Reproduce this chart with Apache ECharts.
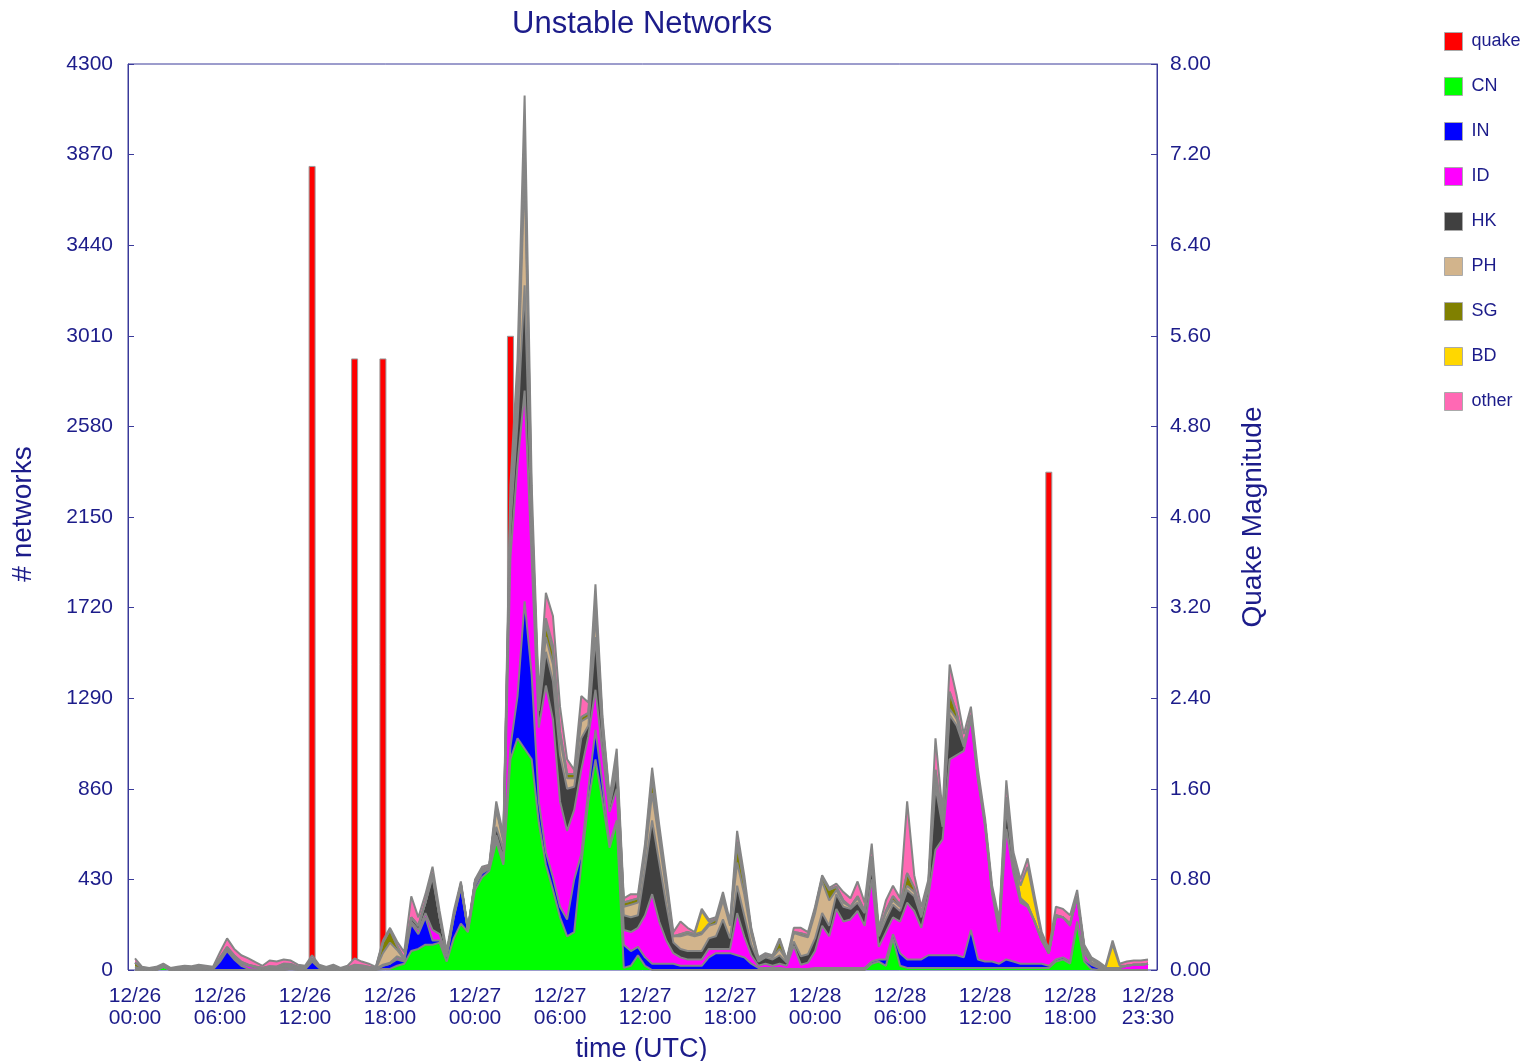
<!DOCTYPE html>
<html>
<head>
<meta charset="utf-8">
<script src="https://cdn.jsdelivr.net/npm/echarts@6/dist/echarts.min.js"></script>
<style>
html,body{margin:0;padding:0;background:#fff;}
#chart{width:1535px;height:1061px;}
</style>
</head>
<body>
<div id="chart"></div>
<script>
// ---- Data (30-minute slots, slot 0 = 12/26 00:00, slot 143 = 12/28 23:30, UTC) ----
const days = ['12/26', '12/27', '12/28'];
const slotsPerDay = 48;
const categories = [];
days.forEach(d => { for (let s = 0; s < slotsPerDay; s++) {
  const hh = String(Math.floor(s / 2)).padStart(2, '0'), mm = s % 2 ? '30' : '00';
  categories.push(d + ' ' + hh + ':' + mm);
}});
const xTickIndex = [0,12,24,36,48,60,72,84,96,108,120,132,143];

const quakeIndex = [25, 31, 35, 53, 129];
const quakeMag   = [7.1, 5.4, 5.4, 5.6, 4.4];

const CN = [0,0,0,0,15,0,0,0,0,0,0,0,0,0,0,0,0,0,0,0,0,0,5,0,0,0,0,0,0,0,0,0,0,0,0,5,5,20,30,90,100,120,120,130,40,150,220,180,380,440,470,610,500,1000,1100,1050,1000,700,500,380,250,160,180,500,800,1000,800,580,700,10,20,70,20,0,0,0,0,0,0,0,0,0,0,0,0,0,0,0,0,0,0,0,0,0,0,0,0,0,0,0,0,0,0,0,30,40,20,150,20,10,10,10,10,10,10,10,10,10,10,10,10,10,10,10,10,10,10,10,10,10,40,50,30,220,40,5,0,0,0,0,0,0,0,0];
const IN = [0,0,0,0,0,0,0,3,5,5,3,2,40,90,50,20,5,2,0,0,0,0,0,0,2,40,10,3,3,0,0,0,0,0,0,15,25,30,10,130,70,130,20,10,20,100,170,10,20,20,10,10,10,60,200,700,400,100,60,60,50,80,250,50,60,140,80,20,10,110,70,40,40,30,30,30,30,20,20,20,20,60,80,80,80,70,60,30,10,10,10,10,5,5,5,5,10,10,10,10,10,10,10,10,10,10,30,20,60,40,40,40,60,60,60,60,60,50,180,40,30,30,20,40,30,20,20,20,20,10,10,10,10,10,10,20,10,5,0,0,0,0,0,0];
const ID = [0,0,0,0,0,0,5,5,3,5,5,3,10,10,10,10,15,10,5,10,10,10,8,5,3,5,3,2,5,2,5,10,8,5,3,0,0,10,10,10,20,20,50,30,10,0,10,0,10,10,5,20,20,900,1100,1000,550,350,790,750,500,420,330,400,250,190,150,150,150,70,90,90,200,330,200,110,50,40,30,30,30,40,20,20,20,200,100,40,10,20,10,20,15,110,20,30,80,200,150,280,220,230,270,200,390,60,130,80,150,270,230,150,280,500,550,930,950,980,1000,850,640,320,150,620,420,290,270,200,110,60,200,190,170,120,30,10,10,5,10,10,20,25,25,30];
const HK = [10,5,3,5,5,3,3,3,3,3,2,2,5,5,5,5,3,3,3,3,3,5,5,5,5,5,3,3,3,3,3,5,5,5,3,5,5,5,0,20,20,50,250,80,10,10,10,0,10,0,0,40,40,150,200,500,150,80,160,180,220,200,110,150,50,250,80,30,80,70,70,60,220,350,280,170,50,40,40,40,40,50,60,140,50,130,100,50,20,30,30,40,15,20,40,40,60,60,50,70,70,50,40,60,60,50,60,60,50,60,70,50,40,300,60,210,140,20,10,10,10,10,20,100,40,10,5,0,0,0,5,0,10,0,10,0,0,0,0,0,0,0,0,0];
const PH = [5,0,0,0,0,0,0,0,0,0,0,0,0,0,0,0,0,0,0,0,0,5,3,0,0,0,0,0,0,0,0,0,0,0,0,55,95,30,0,0,0,0,10,0,0,0,0,0,0,5,5,80,40,50,120,550,60,20,70,80,80,50,40,80,40,100,40,10,40,40,60,60,60,130,100,70,30,60,80,70,80,60,60,90,60,110,100,50,10,10,10,30,10,40,100,80,120,150,120,20,20,10,20,10,30,20,30,20,20,20,20,10,10,50,20,30,30,10,10,10,5,5,10,30,20,10,5,0,0,0,5,0,0,0,20,15,10,0,0,0,0,0,0,0];
const SG = [20,5,3,5,5,3,2,2,2,2,2,2,3,3,3,3,2,2,2,5,3,10,8,5,5,5,4,3,4,2,4,5,5,5,4,50,60,20,5,0,0,0,10,0,0,0,0,0,0,5,0,10,10,30,40,100,30,10,60,60,30,20,20,20,20,50,20,10,20,20,20,20,30,70,40,30,0,10,10,10,10,10,20,20,10,80,50,20,0,0,5,40,0,5,10,10,20,20,50,15,10,0,10,0,20,0,10,20,10,60,20,10,10,30,10,80,30,0,0,0,0,0,10,20,10,0,0,0,0,0,0,0,0,0,0,0,0,0,0,0,0,0,0,0];
const BD = [0,0,0,0,0,0,0,0,0,0,0,0,2,2,2,2,0,0,0,0,0,0,0,0,0,0,0,0,0,0,0,5,5,0,0,0,0,0,0,0,0,0,0,0,0,0,0,0,0,0,0,0,0,10,20,50,10,0,30,30,0,0,0,0,0,40,0,0,0,0,0,0,0,20,0,0,0,0,0,0,100,10,0,0,0,20,0,0,0,0,0,0,0,0,0,0,0,0,0,0,0,0,0,0,0,0,0,0,0,0,0,0,0,0,0,0,0,0,0,0,0,0,0,0,0,60,180,90,20,0,0,0,0,0,0,0,0,0,110,10,0,0,0,0];
const OTHER = [20,5,4,5,5,4,5,7,5,10,8,6,25,40,30,30,30,20,10,27,24,20,16,10,5,15,5,4,10,3,8,30,17,15,5,10,10,20,30,100,40,40,30,30,10,20,10,10,10,10,10,30,20,100,120,200,100,40,120,140,120,70,20,100,50,60,30,20,50,20,30,20,30,30,40,30,20,60,20,10,10,10,10,20,10,50,40,10,10,10,5,10,5,20,25,15,10,10,10,15,40,40,70,40,60,20,50,50,30,340,60,30,20,150,40,130,80,50,40,30,25,25,20,80,30,30,40,30,20,20,40,40,40,30,10,10,10,5,20,10,20,20,20,20];

const seriesNames  = ['CN','IN','ID','HK','PH','SG','BD','other'];
const seriesData   = [CN, IN, ID, HK, PH, SG, BD, OTHER];
const seriesColors = ['#00ff00','#0000ff','#ff00ff','#404040','#d2b48c','#808000','#ffd700','#ff69b4'];

const NAVY = '#1c1c8a';
const AXIS = '#3a3a9a';
const FONT = 'Liberation Sans';

const chart = echarts.init(document.getElementById('chart'), null, {renderer:'canvas'});

// quake magnitudes placed on their time slots (empty elsewhere)
const quakeSeriesData = categories.map((c, i) => { const k = quakeIndex.indexOf(i); return k >= 0 ? quakeMag[k] : '-'; });

const areaSeries = seriesNames.map((name, k) => ({
  name: name,
  type: 'line',
  stack: 'total',
  xAxisIndex: 0, yAxisIndex: 0,
  data: seriesData[k],
  showSymbol: false,
  symbol: 'none',
  color: seriesColors[k],
  itemStyle: {color: seriesColors[k]},
  lineStyle: {color: '#858585', width: 2},
  areaStyle: {color: seriesColors[k], opacity: 1},
  z: 3,
  silent: true
}));

const hiddenAxis = {show: false, axisLine: {show: false}, axisTick: {show: false}, axisLabel: {show: false}, splitLine: {show: false}};

const option = {
  animation: false,
  backgroundColor: '#ffffff',
  textStyle: {fontFamily: FONT},
  title: {
    text: 'Unstable Networks',
    left: 507, top: 4,
    textStyle: {fontFamily: FONT, fontSize: 31, fontWeight: 'normal', color: NAVY}
  },
  legend: {
    orient: 'vertical',
    left: 1444, top: 32, padding: 0,
    itemWidth: 18, itemHeight: 18, itemGap: 26,
    icon: 'rect',
    itemStyle: {borderColor: '#aaaaaa', borderWidth: 1},
    textStyle: {fontFamily: FONT, fontSize: 18, color: NAVY, padding: [0,0,0,4]},
    data: ['quake'].concat(seriesNames)
  },
  grid: [
    // data area: first slot at x=135, last slot at x=1148
    {left: 135, top: 64, width: 1013, height: 906, show: false, outerBoundsMode: 'none'},
    // plot frame
    {left: 128, top: 64, width: 1029, height: 906, show: true, borderColor: AXIS, borderWidth: 1,
     backgroundColor: 'transparent', outerBoundsMode: 'none'}
  ],
  xAxis: [
    {
      type: 'category', gridIndex: 0, data: categories, boundaryGap: false,
      name: 'time (UTC)', nameLocation: 'middle', nameGap: 66,
      nameTextStyle: {fontFamily: FONT, fontSize: 27, color: NAVY},
      axisLine: {show: false},
      axisTick: {show: false},
      splitLine: {show: false},
      axisLabel: {
        interval: (i) => xTickIndex.indexOf(i) >= 0,
        formatter: v => v.replace(' ', '\n'),
        fontFamily: FONT, fontSize: 21, color: NAVY, lineHeight: 22, margin: 15
      }
    },
    Object.assign({type: 'value', gridIndex: 1, min: 0, max: 1}, hiddenAxis)
  ],
  yAxis: [
    Object.assign({type: 'value', gridIndex: 0, min: 0, max: 4300}, hiddenAxis),
    Object.assign({type: 'value', gridIndex: 0, min: 0, max: 8}, hiddenAxis),
    {
      type: 'value', gridIndex: 1, min: 0, max: 4300, interval: 430, position: 'left',
      name: '# networks', nameLocation: 'middle', nameGap: 91, nameRotate: 90,
      nameTextStyle: {fontFamily: FONT, fontSize: 28, color: NAVY, padding: [0,0,0,6]},
      axisLine: {show: true, lineStyle: {color: AXIS}},
      axisTick: {show: true, inside: true, length: 6, lineStyle: {color: AXIS}},
      splitLine: {show: false},
      axisLabel: {fontFamily: FONT, fontSize: 21, color: NAVY, margin: 15, formatter: v => String(v)}
    },
    {
      type: 'value', gridIndex: 1, min: 0, max: 8, interval: 0.8, position: 'right',
      name: 'Quake Magnitude', nameLocation: 'middle', nameGap: 82, nameRotate: 90,
      nameTextStyle: {fontFamily: FONT, fontSize: 28, color: NAVY},
      axisLine: {show: true, lineStyle: {color: AXIS}},
      axisTick: {show: true, inside: true, length: 6, lineStyle: {color: AXIS}},
      splitLine: {show: false},
      axisLabel: {fontFamily: FONT, fontSize: 21, color: NAVY, margin: 13, formatter: v => v.toFixed(2)}
    }
  ],
  series: [
    {
      name: 'quake',
      type: 'bar',
      xAxisIndex: 0, yAxisIndex: 1,
      barWidth: 7,
      data: quakeSeriesData,
      color: '#ff0000',
      itemStyle: {color: '#ff0000', borderColor: '#999999', borderWidth: 1},
      z: 1,
      silent: true
    }
  ].concat(areaSeries)
};

chart.setOption(option);
</script>
</body>
</html>
